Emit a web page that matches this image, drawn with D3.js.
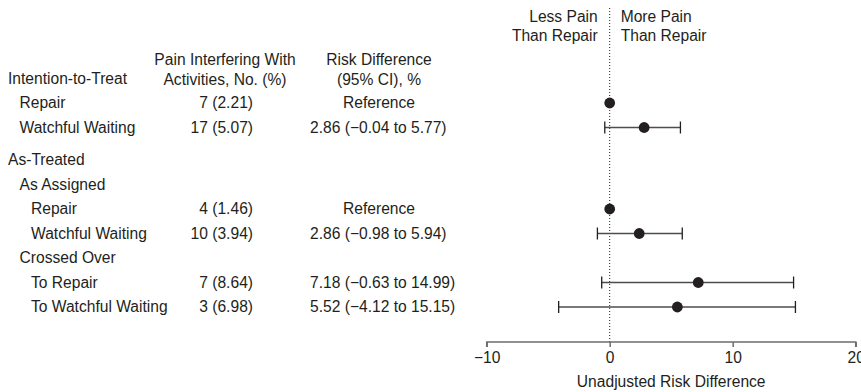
<!DOCTYPE html>
<html>
<head>
<meta charset="utf-8">
<script src="https://cdn.jsdelivr.net/npm/d3@7"></script>
<style>
  body { margin: 0; background: #fff; }
  svg { font-family: "Liberation Sans", Arial, Helvetica, sans-serif; font-size: 15.6px; fill: #231f20; }
</style>
</head>
<body>
<div id="chart"></div>
<script>
// rows of the forest table
var labels = ["Intention-to-Treat", "Repair", "Watchful Waiting", "As-Treated", "As Assigned",
              "Repair", "Watchful Waiting", "Crossed Over", "To Repair", "To Watchful Waiting"];
var indent = [0, 1, 1, 0, 1, 2, 2, 1, 2, 2];
var counts = ["", "7 (2.21)", "17 (5.07)", "", "", "4 (1.46)", "10 (3.94)", "", "7 (8.64)", "3 (6.98)"];
var rdText = ["", "Reference", "2.86 (\u22120.04 to 5.77)", "", "", "Reference",
              "2.86 (\u22120.98 to 5.94)", "", "7.18 (\u22120.63 to 14.99)", "5.52 (\u22124.12 to 15.15)"];
// plotted marks (null = no mark)
var estimate = [null, 0, 2.8, null, null, 0, 2.4, null, 7.2, 5.5];
var lower    = [null, null, -0.4, null, null, null, -1.0, null, -0.65, -4.15];
var upper    = [null, null, 5.75, null, null, null, 5.9, null, 14.95, 15.1];
var xTicks = [-10, 0, 10, 20];

var width = 861, height = 392;
var svg = d3.select("#chart").append("svg").attr("width", width).attr("height", height)
  .style("overflow", "visible");

var x = d3.scaleLinear().domain([-10, 20]).range([486.7, 855.7]);
// row centre: step 24.5, extra gap before the As-Treated section
function rowY(i) { return 78.5 + i * 24.5 + (i >= 3 ? 8 : 0); }

var rows = labels.map(function(l, i) { return { i: i, label: l }; });

// headers
var hdr = svg.append("g");
hdr.append("text").attr("x", 225).attr("y", 65).attr("text-anchor", "middle").text("Pain Interfering With");
hdr.append("text").attr("x", 225).attr("y", 85).attr("text-anchor", "middle").text("Activities, No. (%)");
hdr.append("text").attr("x", 379).attr("y", 65).attr("text-anchor", "middle").text("Risk Difference");
hdr.append("text").attr("x", 379).attr("y", 85).attr("text-anchor", "middle").text("(95% CI), %");
hdr.append("text").attr("x", x(0) - 12).attr("y", 22).attr("text-anchor", "end").text("Less Pain");
hdr.append("text").attr("x", x(0) - 12).attr("y", 41).attr("text-anchor", "end").text("Than Repair");
hdr.append("text").attr("x", x(0) + 11).attr("y", 22).text("More Pain");
hdr.append("text").attr("x", x(0) + 11).attr("y", 41).text("Than Repair");

// table text
svg.selectAll(".lab").data(rows).enter().append("text")
  .attr("x", function(d) { return 8 + indent[d.i] * 11.5; })
  .attr("y", function(d) { return rowY(d.i); }).attr("dy", "0.35em")
  .text(function(d) { return d.label; });
svg.selectAll(".cnt").data(rows).enter().append("text")
  .attr("x", 253).attr("text-anchor", "end")
  .attr("y", function(d) { return rowY(d.i); }).attr("dy", "0.35em")
  .text(function(d) { return counts[d.i]; });
svg.selectAll(".rd").data(rows).enter().append("text")
  .attr("x", function(d) { return rdText[d.i] === "Reference" ? 379 : 310; })
  .attr("text-anchor", function(d) { return rdText[d.i] === "Reference" ? "middle" : "start"; })
  .attr("y", function(d) { return rowY(d.i); }).attr("dy", "0.35em")
  .text(function(d) { return rdText[d.i]; });

// zero line
svg.append("line").attr("x1", x(0)).attr("x2", x(0)).attr("y1", 8).attr("y2", 342)
  .style("stroke", "#231f20").style("stroke-width", 1).style("stroke-dasharray", "1,2");

// axis
var axis = svg.append("g").attr("transform", "translate(0,342)")
  .call(d3.axisBottom(x).tickValues(xTicks).tickSize(5).tickPadding(5)
    .tickFormat(function(d) { return d < 0 ? "\u2212" + Math.abs(d) : d; }));
axis.select(".domain").attr("d", "M" + x(-10) + ",5V0H" + x(20) + "V5")
  .style("stroke", "#6d6e71").style("stroke-width", 1.5);
axis.selectAll(".tick line").style("stroke", "#6d6e71").style("stroke-width", 1.5);
axis.selectAll(".tick text").style("font-size", "15.6px").style("font-family", "inherit").style("fill", "#231f20");
svg.append("text").attr("x", (x(-10) + x(20)) / 2).attr("y", 387).attr("text-anchor", "middle")
  .text("Unadjusted Risk Difference");

// CIs and points
var ci = rows.filter(function(d) { return lower[d.i] !== null; });
var g = svg.append("g");
g.selectAll(".ci").data(ci).enter().append("line")
  .attr("x1", function(d) { return x(lower[d.i]); }).attr("x2", function(d) { return x(upper[d.i]); })
  .attr("y1", function(d) { return rowY(d.i); }).attr("y2", function(d) { return rowY(d.i); })
  .style("stroke", "#4d4d4f").style("stroke-width", 1.5);
g.selectAll(".capl").data(ci).enter().append("line")
  .attr("x1", function(d) { return x(lower[d.i]); }).attr("x2", function(d) { return x(lower[d.i]); })
  .attr("y1", function(d) { return rowY(d.i) - 6; }).attr("y2", function(d) { return rowY(d.i) + 6; })
  .style("stroke", "#231f20").style("stroke-width", 1.3);
g.selectAll(".capr").data(ci).enter().append("line")
  .attr("x1", function(d) { return x(upper[d.i]); }).attr("x2", function(d) { return x(upper[d.i]); })
  .attr("y1", function(d) { return rowY(d.i) - 6; }).attr("y2", function(d) { return rowY(d.i) + 6; })
  .style("stroke", "#231f20").style("stroke-width", 1.3);
g.selectAll(".pt").data(rows.filter(function(d) { return estimate[d.i] !== null; })).enter().append("circle")
  .attr("cx", function(d) { return x(estimate[d.i]); })
  .attr("cy", function(d) { return rowY(d.i); })
  .attr("r", 5.4).style("fill", "#231f20");
</script>
</body>
</html>
